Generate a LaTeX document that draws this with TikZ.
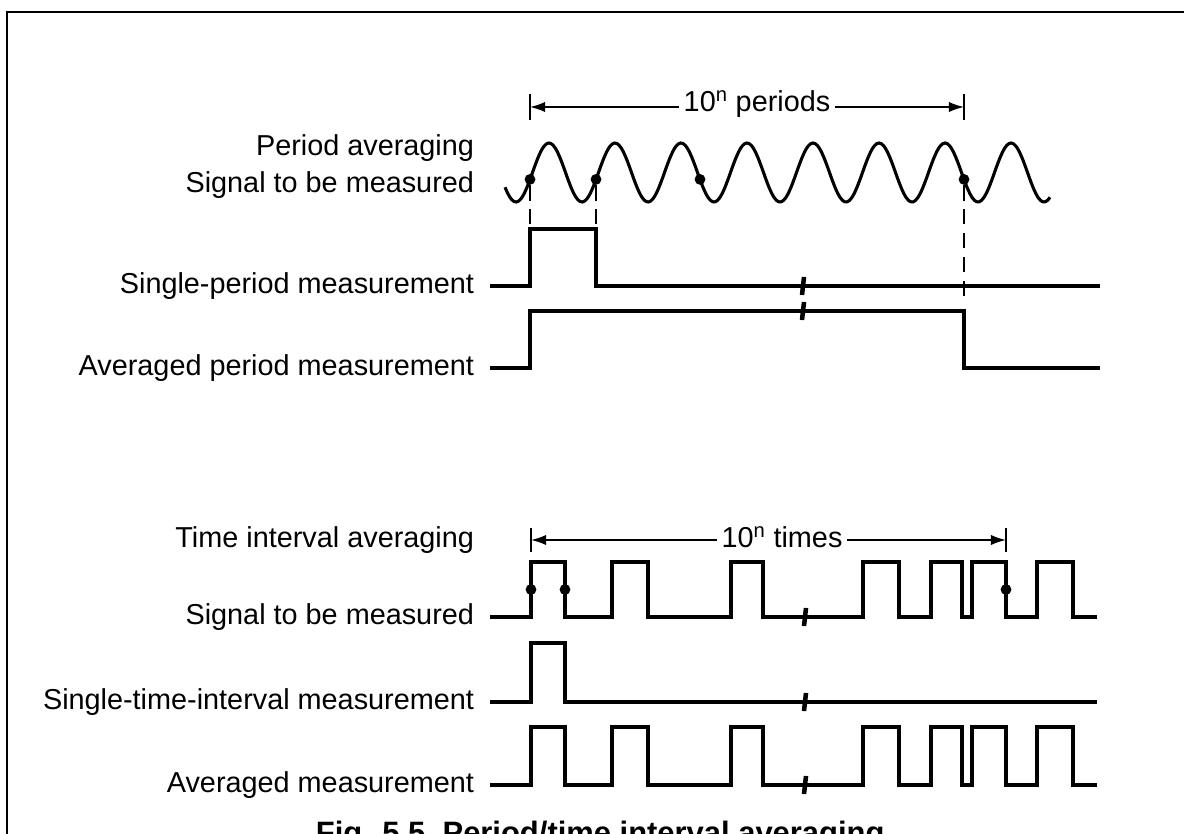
\documentclass[tikz,border=0pt]{standalone}
\usepackage{fontspec}
\setmainfont{Liberation Sans}
\usetikzlibrary{arrows.meta}
\newcommand{\gapmark}[1]{\draw[gap] (#1) ++(1,-9) -- ++(-2,18) ++(4,-18) -- ++(-2,18);}

\begin{document}
\begin{tikzpicture}[x=0.025cm, y=-0.025cm, font=\fontsize{20.5}{24}\selectfont,
  >={Latex[length=3.8mm,width=2.6mm]},
  wave/.style={line width=2.5pt},
  sine/.style={line width=2.2pt},
  guide/.style={line width=1.9pt, dash pattern=on 11pt off 6pt},
  tickln/.style={line width=2pt},
  dim/.style={->, line width=1.2pt},
  lbl/.style={anchor=east, inner ysep=0pt, inner xsep=0pt, outer xsep=0.4cm},
  dot/.style={circle, fill, inner sep=0pt, minimum size=0.27cm},
  gap/.style={line width=1.8pt},
  frame/.style={line width=1.6pt}]
\useasboundingbox (0,0) rectangle (1184,834);
\fill[white] (0,0) rectangle (1184,834);
\clip (0,0) rectangle (1184,834);
\draw[frame] (7,900) |- (1300,12);
% period averaging
\node[lbl] (pa) at (490,148) {Period averaging};
\node[lbl] (ps) at (490,185) {Signal to be measured};
\node[lbl] (psp) at (490,286) {Single-period measurement};
\node[lbl] (pav) at (490,368) {Averaged period measurement};
\coordinate (pl) at (530,107);
\coordinate (pr) at (964,107);
\node (pn) at (757,104) {10\textsuperscript{n} periods};
\draw[dim] (pn.west |- pl) -- (pl);
\draw[dim] (pn.east |- pr) -- (pr);
\draw[tickln] (pl) ++(0,-13) -- ++(0,26);
\draw[tickln] (pr) ++(0,-13) -- ++(0,26);
\draw[sine] plot[domain=505:1050, samples=240, smooth] (\x, {172.5+29.5*cos(5.454545*(\x-516))});
\node[dot] (d1) at (530,179.4) {};
\node[dot] (d2) at (596,179.4) {};
\node[dot] (d3) at (700,179.4) {};
\node[dot] (d4) at (964,179.4) {};
\draw[guide] (d1) -- ++(0,50);
\draw[guide] (d2) -- ++(0,50);
\draw[guide] (d4) -- ++(0,121);
\draw[wave] (psp.east) -| (530,229) -| (596,286) -- (1100,286);
\draw[wave] (pav.east) -| (530,311) -| (964,368) -- (1100,368);
\gapmark{802,286}
\gapmark{802,311}
% time interval averaging
\node[lbl] (ta) at (490,540) {Time interval averaging};
\node[lbl] (ts) at (490,617) {Signal to be measured};
\node[lbl] (tsi) at (490,702) {Single-time-interval measurement};
\node[lbl] (tav) at (490,785) {Averaged measurement};
\coordinate (tl) at (531,540);
\coordinate (tr) at (1006,540);
\node (tn) at (782,537) {10\textsuperscript{n} times};
\draw[dim] (tn.west |- tl) -- (tl);
\draw[dim] (tn.east |- tr) -- (tr);
\draw[tickln] (tl) ++(0,-12) -- ++(0,24);
\draw[tickln] (tr) ++(0,-12) -- ++(0,24);
\draw[wave] (ts.east) -| (531,562) -| (565,617) -| (612,562) -| (648,617) -| (731,562) -| (763,617)
  -| (863,562) -| (899,617) -| (931,562) -| (962,617) -| (972,562) -| (1006,617) -| (1037,562) -| (1073,617) -- (1097,617);
\draw[wave] (tsi.east) -| (531,643) -| (565,702) -- (1097,702);
\draw[wave] (tav.east) -| (531,727) -| (565,785) -| (612,727) -| (648,785) -| (731,727) -| (763,785)
  -| (863,727) -| (899,785) -| (931,727) -| (962,785) -| (972,727) -| (1006,785) -| (1037,727) -| (1073,785) -- (1097,785);
\node[dot] (e1) at (531,589.5) {};
\node[dot] (e2) at (565,589.5) {};
\node[dot] (e3) at (1006,589.5) {};
\gapmark{804,617}
\gapmark{804,702}
\gapmark{804,785}
\node[font=\fontsize{22}{26}\selectfont\bfseries, anchor=base west] (cap) at (311,843) {Fig. 5.5\ \ Period/time interval averaging};
\end{tikzpicture}
\end{document}
